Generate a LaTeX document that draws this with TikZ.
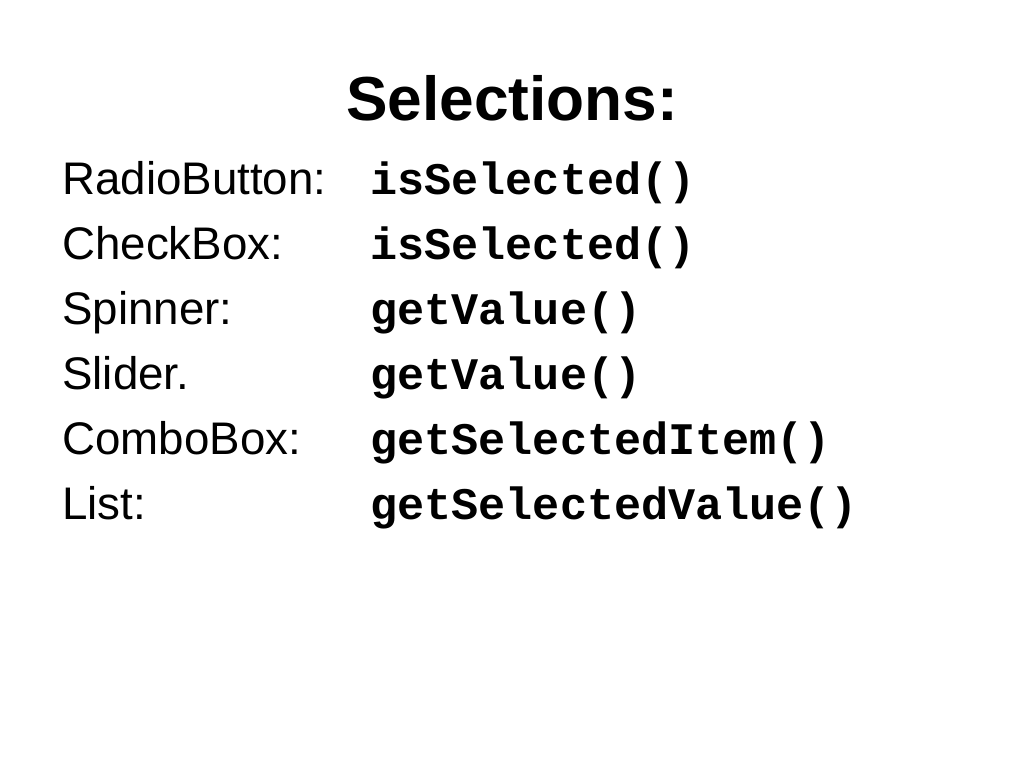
\documentclass[tikz,border=0pt]{standalone}
\usepackage{fontspec}
\setmainfont{Liberation Sans}
\setmonofont{Liberation Mono}
\begin{document}
\begin{tikzpicture}[x=0.02cm,y=-0.02cm]
    \useasboundingbox (0,0) rectangle (1024,768);
    \begin{scope}[inner sep=0pt]
      \tikzstyle{every node}=[anchor=base west,font=\fontsize{26}{30}\selectfont]
      \tikzstyle{meth}=[font=\fontsize{25.7}{30}\selectfont\ttfamily\bfseries]
      \node[anchor=base,font=\fontsize{35.4}{40}\selectfont\bfseries] (T) at (512,120) {Selections:};
      \node (RB)     at (62 ,194) {RadioButton:};
      \node (CB)     at (62 ,259) {CheckBox:};
      \node (Sp)     at (62 ,324) {Spinner:};
      \node (Sl)     at (62 ,389) {Slider.};
      \node (Co)     at (62 ,454) {ComboBox:};
      \node (Li)     at (62 ,519) {List:};
      \node[meth] (mRB)    at (370,194) {isSelected()};
      \node[meth] (mCB)    at (370,259) {isSelected()};
      \node[meth] (mSp)    at (370,324) {getValue()};
      \node[meth] (mSl)    at (370,389) {getValue()};
      \node[meth] (mCo)    at (370,454) {getSelectedItem()};
      \node[meth] (mLi)    at (370,519) {getSelectedValue()};
    \end{scope}
  \end{tikzpicture}
\end{document}
